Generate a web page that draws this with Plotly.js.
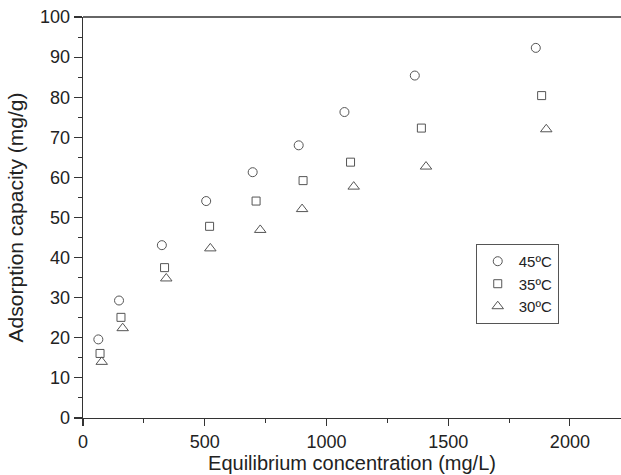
<!DOCTYPE html>
<html>
<head>
<meta charset="utf-8">
<script src="https://cdn.plot.ly/plotly-3.0.1.min.js"></script>
<style>html,body{margin:0;padding:0;background:#fff;}#chart{width:621px;height:475px;}</style>
</head>
<body>
<div id="chart"></div>
<script>
// Data
const seriesNames = ["45ºC", "35ºC", "30ºC"];
const x45 = [63, 148, 324, 506, 697, 886, 1074, 1363, 1860];
const y45 = [19.6, 29.3, 43.1, 54.1, 61.3, 68.0, 76.3, 85.4, 92.3];
const x35 = [70, 156, 335, 520, 711, 904, 1099, 1390, 1884];
const y35 = [16.1, 25.1, 37.5, 47.8, 54.1, 59.2, 63.8, 72.3, 80.4];
const x30 = [77, 163, 342, 523, 728, 900, 1112, 1409, 1903];
const y30 = [14.0, 22.4, 34.8, 42.3, 46.9, 52.1, 57.7, 62.7, 72.0];

const markerColor = "#555555";
function mk(x, y, name, symbol, size) {
  return {
    x: x, y: y, name: name, type: "scatter", mode: "markers",
    marker: {symbol: symbol, size: size, color: markerColor, line: {color: markerColor, width: 1}}
  };
}
const traces = [
  mk(x45, y45, seriesNames[0], "circle-open", 9),
  mk(x35, y35, seriesNames[1], "square-open", 8),
  mk(x30, y30, seriesNames[2], "triangle-up-open", 10)
];

const fam = "Liberation Sans, Arial, sans-serif";
const tickFont = {family: fam, size: 18, color: "#222"};
const layout = {
  width: 621, height: 475,
  margin: {l: 83, r: 0, t: 17, b: 57},
  paper_bgcolor: "#fff", plot_bgcolor: "#fff",
  font: tickFont,
  showlegend: true,
  legend: {
    x: 0.730, xanchor: "left",
    y: 0.434, yanchor: "top",
    bgcolor: "#fff", bordercolor: "#555", borderwidth: 1,
    font: {family: fam, size: 15, color: "#222"},
    itemwidth: 32
  },
  xaxis: {
    range: [0, 2210], dtick: 500, tick0: 0,
    showline: true, linecolor: "#333", linewidth: 1.3,
    ticks: "outside", ticklen: 7, tickwidth: 1.2, tickcolor: "#333",
    minor: {dtick: 250, ticks: "outside", ticklen: 4, tickcolor: "#333", tickwidth: 1},
    showgrid: false, zeroline: false,
    tickfont: tickFont,
    title: {text: "Equilibrium concentration (mg/L)", font: {family: fam, size: 20, color: "#222"}, standoff: 4}
  },
  yaxis: {
    range: [0, 100], dtick: 10, tick0: 0,
    showline: true, linecolor: "#333", linewidth: 1.3,
    ticks: "outside", ticklen: 8, tickwidth: 1.2, tickcolor: "#333",
    minor: {dtick: 5, ticks: "outside", ticklen: 4, tickcolor: "#333", tickwidth: 1},
    showgrid: false, zeroline: false,
    tickfont: tickFont,
    title: {text: "Adsorption capacity (mg/g)", font: {family: fam, size: 21, color: "#222"}, standoff: 10}
  },
  shapes: [
    {type: "line", xref: "paper", yref: "paper", x0: 0, x1: 1, y0: 1, y1: 1, line: {color: "#333", width: 1.5}}
  ]
};

Plotly.newPlot("chart", traces, layout, {displayModeBar: false, staticPlot: true});
</script>
</body>
</html>
